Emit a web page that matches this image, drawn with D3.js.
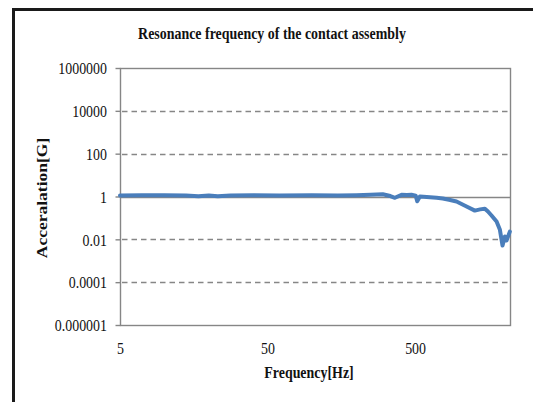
<!DOCTYPE html>
<html>
<head>
<meta charset="utf-8">
<script src="https://cdn.jsdelivr.net/npm/d3@7"></script>
<style>
  html, body { margin: 0; padding: 0; background: #fff; }
  svg { display: block; }
</style>
</head>
<body>
<svg id="chart" width="533" height="402"></svg>
<script>
// Measured response of the contact assembly (frequency in Hz, acceleration in G)
const freqHz = [5, 7, 10, 14, 17, 20, 23, 28, 40, 60, 100, 150, 200, 250, 302, 340, 365, 405, 440, 473, 505, 517, 539, 600, 700, 771, 850, 955, 1117, 1271, 1380, 1486, 1560, 1649, 1784, 1877, 1958, 2029, 2084, 2195];
const accelG = [1.12, 1.15, 1.13, 1.1, 1.02, 1.12, 1.03, 1.12, 1.14, 1.12, 1.13, 1.12, 1.15, 1.2, 1.28, 1.05, 0.87, 1.2, 1.18, 1.2, 1.1, 0.6, 1.0, 0.95, 0.88, 0.81, 0.7, 0.58, 0.34, 0.22, 0.25, 0.27, 0.2, 0.13, 0.068, 0.029, 0.0051, 0.0135, 0.0088, 0.023];

const yTickValues = [1e6, 1e4, 1e2, 1, 1e-2, 1e-4, 1e-6];
const yTickLabels = ["1000000", "10000", "100", "1", "0.01", "0.0001", "0.000001"];
const xTickValues = [5, 50, 500];
const xTickLabels = ["5", "50", "500"];

const titleText = "Resonance frequency of the contact assembly";
const xTitle = "Frequency[Hz]";
const yTitle = "Acceralation[G]";

const svg = d3.select("#chart");
const plot = { left: 120, right: 510, top: 68, bottom: 325 };
const gridColor = "#868686";
const inkColor = "#111";
const serif = "'Liberation Serif', 'Times New Roman', serif";
const fontSize = 17;
const narrow = 0.82;   // horizontal squeeze applied to all lettering

const x = d3.scaleLog().domain([5, 2200]).range([plot.left, plot.right]);
const y = d3.scaleLog().domain([1e-6, 1e6]).range([plot.bottom, plot.top]);

// narrow serif text placed at (px, py)
function label(parent, px, py, str, opts = {}) {
  const g = parent.append("g")
    .attr("transform", `translate(${px},${py}) scale(${narrow},1)` + (opts.rotate ? ` rotate(${opts.rotate})` : ""));
  return g.append("text")
    .attr("text-anchor", opts.anchor || "middle")
    .attr("dy", opts.dy || null)
    .attr("font-family", serif)
    .attr("font-size", fontSize)
    .attr("font-weight", opts.bold ? "bold" : "normal")
    .attr("fill", inkColor)
    .text(str);
}

// outer frame (left and top edges)
svg.append("line").attr("x1", 13.5).attr("x2", 13.5).attr("y1", 8).attr("y2", 402)
  .attr("stroke", "#1a1a1a").attr("stroke-width", 3);
svg.append("line").attr("x1", 12).attr("x2", 533).attr("y1", 9.5).attr("y2", 9.5)
  .attr("stroke", "#1a1a1a").attr("stroke-width", 3);

// title
label(svg, 272, 39, titleText, { bold: true });

// dashed gridlines
svg.append("g").selectAll("line")
  .data(yTickValues.filter(v => v !== 1 && v !== 1e6 && v !== 1e-6))
  .join("line")
  .attr("x1", plot.left + 2).attr("x2", plot.right)
  .attr("y1", d => Math.round(y(d)) + 0.5).attr("y2", d => Math.round(y(d)) + 0.5)
  .attr("stroke", gridColor).attr("stroke-width", 1.5).attr("stroke-dasharray", "5.5,4");

// plot area border
svg.append("rect")
  .attr("x", plot.left + 0.5).attr("y", plot.top + 0.5)
  .attr("width", plot.right - plot.left).attr("height", plot.bottom - plot.top)
  .attr("fill", "none").attr("stroke", gridColor).attr("stroke-width", 1.4);

// horizontal axis line crossing at 1
svg.append("line").attr("x1", plot.left).attr("x2", plot.right)
  .attr("y1", Math.round(y(1)) + 0.5).attr("y2", Math.round(y(1)) + 0.5)
  .attr("stroke", gridColor).attr("stroke-width", 1.4);

// y axis: tick marks from d3, labels squeezed
const yAxis = d3.axisLeft(y).tickValues(yTickValues).tickSize(5).tickFormat(() => "");
const gy = svg.append("g").attr("transform", `translate(${plot.left + 0.5},0)`).call(yAxis);
gy.select(".domain").remove();
gy.selectAll(".tick line").attr("stroke", gridColor).attr("stroke-width", 1.4);
gy.selectAll(".tick text").remove();
gy.selectAll(".tick").each(function(d, i) {
  label(d3.select(this), -13.5, 0, yTickLabels[i], { anchor: "end", dy: "0.34em" });
});

// x axis labels along the bottom
const xAxis = d3.axisBottom(x).tickValues(xTickValues).tickSize(0).tickFormat(() => "");
const gx = svg.append("g").attr("transform", `translate(0,${plot.bottom})`).call(xAxis);
gx.select(".domain").remove();
gx.selectAll(".tick text").remove();
gx.selectAll(".tick").each(function(d, i) {
  label(d3.select(this), 0, 29, xTickLabels[i]);
});

// axis titles
label(svg, 309, 378, xTitle, { bold: true });
svg.append("text")
  .attr("transform", "translate(47,198) scale(0.88,1) rotate(-90)")
  .attr("text-anchor", "middle").attr("font-family", serif)
  .attr("font-weight", "bold").attr("font-size", 17.5).attr("fill", inkColor)
  .text(yTitle);

// response curve
const pts = freqHz.map((f, i) => [f, accelG[i]]);
svg.append("path").datum(pts)
  .attr("fill", "none").attr("stroke", "#4a7ebb").attr("stroke-width", 4)
  .attr("stroke-linejoin", "round").attr("stroke-linecap", "round")
  .attr("d", d3.line().x(d => x(d[0])).y(d => y(d[1])));
</script>
</body>
</html>
